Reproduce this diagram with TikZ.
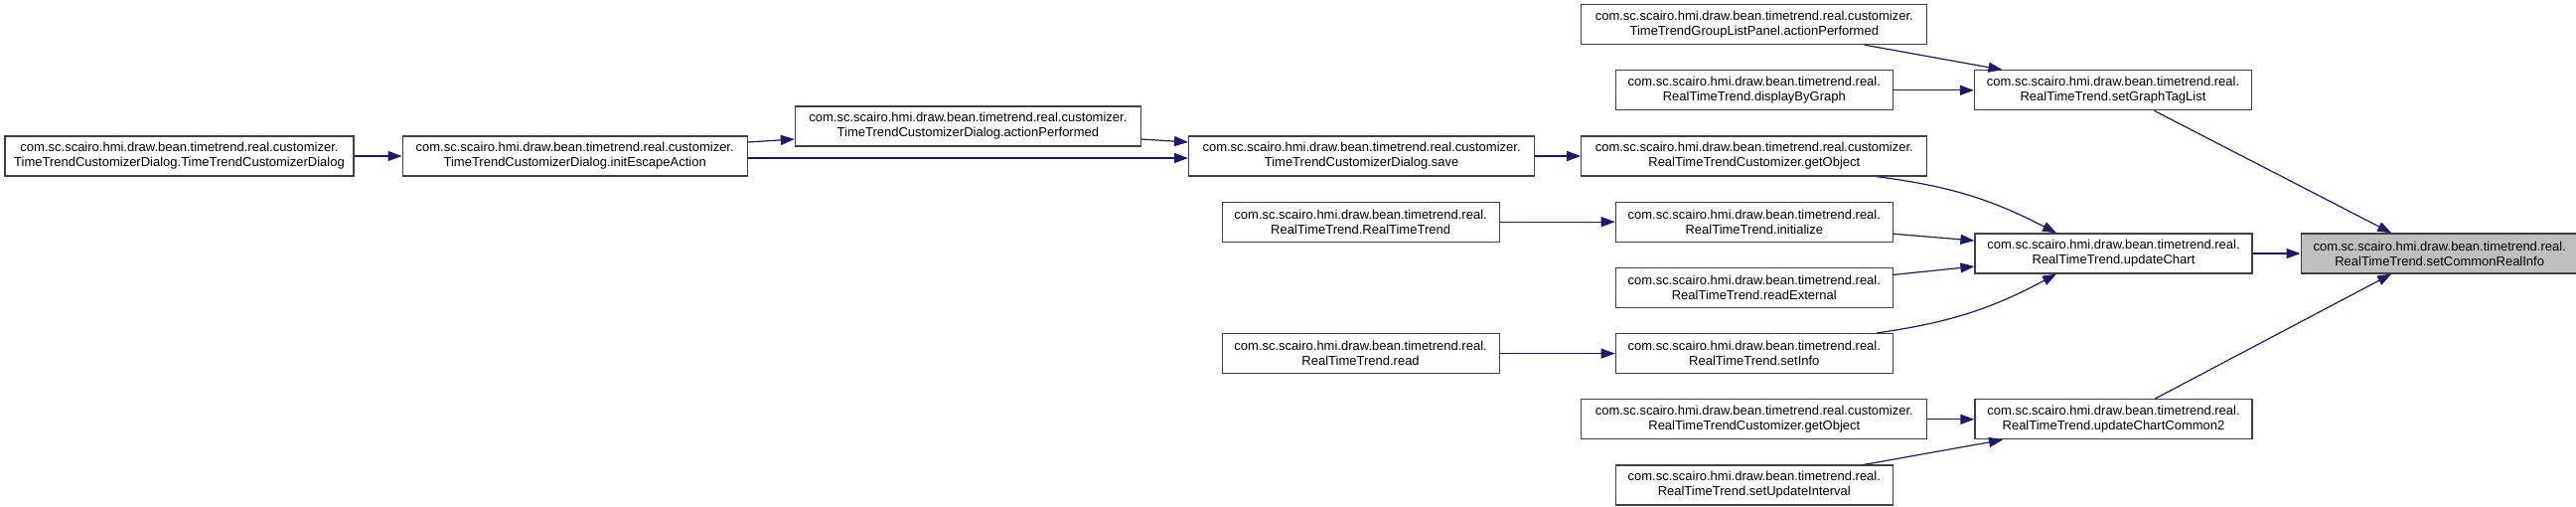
\documentclass[tikz,border=0pt]{standalone}
\usepackage{fontspec}
\setmainfont{Liberation Sans}
\usetikzlibrary{positioning,arrows.meta}
\definecolor{edgeblue}{HTML}{191970}
\definecolor{boxline}{HTML}{404040}
\definecolor{hlgray}{HTML}{BFBFBF}

\begin{document}
\begin{tikzpicture}[
    fn/.style={draw=boxline, line width=0.6pt, fill=white, minimum height=20pt, inner sep=1pt, align=center, font=\fontsize{6.5}{7.5}\selectfont},
    widebox/.style={fn, minimum width=174pt},
    narrowbox/.style={fn, minimum width=139.5pt},
    >={Triangle[length=7pt,width=5pt]},
    call/.style={->, color=edgeblue, line width=0.6pt},
    node distance=12.5pt
  ]
    \useasboundingbox (0,0) rectangle (1296.5pt,-254.5pt);

    % left chain
    \node[fn, minimum width=175.5pt] (ctor) at (90.25pt,-78.5pt) {com.sc.scairo.hmi.draw.bean.timetrend.real.customizer.\\TimeTrendCustomizerDialog.TimeTrendCustomizerDialog};
    \node[widebox, right=24pt of ctor, minimum width=173.5pt] (escape) {com.sc.scairo.hmi.draw.bean.timetrend.real.customizer.\\TimeTrendCustomizerDialog.initEscapeAction};
    \node[widebox, right=23.5pt of escape, yshift=15pt] (dlgaction) {com.sc.scairo.hmi.draw.bean.timetrend.real.customizer.\\TimeTrendCustomizerDialog.actionPerformed};
    \node[widebox, right=23.5pt of dlgaction, yshift=-15pt] (save) {com.sc.scairo.hmi.draw.bean.timetrend.real.customizer.\\TimeTrendCustomizerDialog.save};

    % middle column
    \node[widebox, right=23pt of save] (getobj) {com.sc.scairo.hmi.draw.bean.timetrend.real.customizer.\\RealTimeTrendCustomizer.getObject};
    \node[narrowbox, above=of getobj] (bygraph) {com.sc.scairo.hmi.draw.bean.timetrend.real.\\RealTimeTrend.displayByGraph};
    \node[widebox, above=of bygraph] (grpaction) {com.sc.scairo.hmi.draw.bean.timetrend.real.customizer.\\TimeTrendGroupListPanel.actionPerformed};
    \node[narrowbox, below=of getobj] (init) {com.sc.scairo.hmi.draw.bean.timetrend.real.\\RealTimeTrend.initialize};
    \node[narrowbox, below=of init] (readext) {com.sc.scairo.hmi.draw.bean.timetrend.real.\\RealTimeTrend.readExternal};
    \node[narrowbox, below=of readext] (setinfo) {com.sc.scairo.hmi.draw.bean.timetrend.real.\\RealTimeTrend.setInfo};
    \node[widebox, below=of setinfo] (getobj2) {com.sc.scairo.hmi.draw.bean.timetrend.real.customizer.\\RealTimeTrendCustomizer.getObject};
    \node[narrowbox, below=of getobj2] (interval) {com.sc.scairo.hmi.draw.bean.timetrend.real.\\RealTimeTrend.setUpdateInterval};

    \node[narrowbox, left=58pt of init] (rtt) {com.sc.scairo.hmi.draw.bean.timetrend.real.\\RealTimeTrend.RealTimeTrend};
    \node[narrowbox, left=58pt of setinfo] (read) {com.sc.scairo.hmi.draw.bean.timetrend.real.\\RealTimeTrend.read};

    % right columns
    \node[narrowbox, right=40.5pt of bygraph] (taglist) {com.sc.scairo.hmi.draw.bean.timetrend.real.\\RealTimeTrend.setGraphTagList};
    \node[narrowbox, right=23.5pt of getobj, yshift=-49pt] (update) {com.sc.scairo.hmi.draw.bean.timetrend.real.\\RealTimeTrend.updateChart};
    \node[narrowbox, right=23.5pt of getobj2] (common2) {com.sc.scairo.hmi.draw.bean.timetrend.real.\\RealTimeTrend.updateChartCommon2};
    \node[narrowbox, fill=hlgray, right=24pt of update] (target) {com.sc.scairo.hmi.draw.bean.timetrend.real.\\RealTimeTrend.setCommonRealInfo};

    \draw[call] (ctor) -- (escape);
    \draw[call] ([yshift=7pt]escape.east) -- ([yshift=-6.5pt]dlgaction.west);
    \draw[call] ([yshift=-1pt]escape.east) -- ([yshift=-1pt]save.west);
    \draw[call] ([yshift=-6.5pt]dlgaction.east) -- ([yshift=7pt]save.west);
    \draw[call] (save) -- (getobj);
    \draw[call] (rtt) -- (init);
    \draw[call] (read) -- (setinfo);

    \draw[call] ([xshift=55.5pt]grpaction.south) -- ([xshift=-55.75pt]taglist.north);
    \draw[call] (bygraph) -- (taglist);
    \draw[call] ([xshift=61.5pt]getobj.south) to[bend left=10] ([xshift=-28.75pt]update.north);
    \draw[call] ([yshift=-6pt]init.east) -- ([yshift=6.5pt]update.west);
    \draw[call] ([yshift=6.5pt]readext.east) -- ([yshift=-6.5pt]update.west);
    \draw[call] ([xshift=61.5pt]setinfo.north) to[bend right=10] ([xshift=-28.75pt]update.south);
    \draw[call] (getobj2) -- (common2);
    \draw[call] ([xshift=55.25pt]interval.north) -- ([xshift=-55.75pt]common2.south);

    \draw[call] ([xshift=20.75pt]taglist.south) -- ([xshift=-24.25pt]target.north);
    \draw[call] (update) -- (target);
    \draw[call] ([xshift=20.75pt]common2.north) -- ([xshift=-24.25pt]target.south);
  \end{tikzpicture}
\end{document}
